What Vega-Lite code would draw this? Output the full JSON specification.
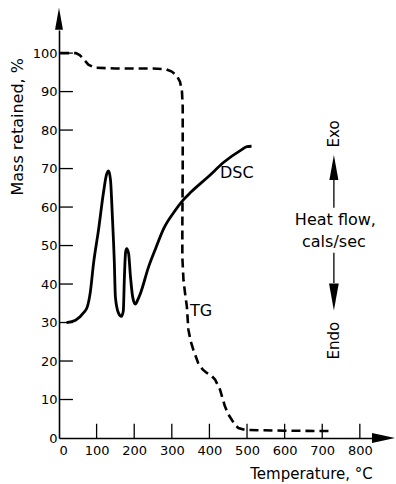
{
  "$schema": "https://vega.github.io/schema/vega-lite/v6.json",
  "width": 314,
  "height": 408,
  "autosize": {"type": "none"},
  "padding": {"left": 59, "top": 30, "right": 23, "bottom": 46},
  "background": "white",
  "config": {
    "view": {"stroke": null},
    "font": "DejaVu Sans",
    "axis": {
      "domainColor": "black",
      "domainWidth": 1.6,
      "ticks": false,
      "labelColor": "black",
      "labelFont": "DejaVu Sans",
      "labelFontSize": 13,
      "titleColor": "black",
      "titleFont": "DejaVu Sans",
      "titleFontSize": 15,
      "titleFontWeight": "normal",
      "grid": false
    }
  },
  "datasets": {
    "dsc": [
      {"T": 20, "m": 30}, {"T": 44, "m": 30.6}, {"T": 65, "m": 32.5}, {"T": 75, "m": 34},
      {"T": 83, "m": 37.7}, {"T": 92, "m": 45.5}, {"T": 105, "m": 54}, {"T": 118, "m": 63.6},
      {"T": 126, "m": 68.3}, {"T": 132, "m": 69.4}, {"T": 137, "m": 67}, {"T": 142, "m": 57.4},
      {"T": 147, "m": 46}, {"T": 150, "m": 36.6}, {"T": 158, "m": 32.5}, {"T": 166, "m": 31.6},
      {"T": 171, "m": 33}, {"T": 174, "m": 42}, {"T": 177, "m": 48.2}, {"T": 180, "m": 49.2},
      {"T": 185, "m": 48}, {"T": 190, "m": 42}, {"T": 196, "m": 36.6}, {"T": 203, "m": 34.8},
      {"T": 210, "m": 36}, {"T": 217, "m": 37.7}, {"T": 238, "m": 44.4}, {"T": 258, "m": 49.5},
      {"T": 279, "m": 54.5}, {"T": 306, "m": 58.7}, {"T": 330, "m": 61.8}, {"T": 351, "m": 63.9},
      {"T": 396, "m": 67.8}, {"T": 439, "m": 71.7}, {"T": 484, "m": 74.8}, {"T": 500, "m": 75.7},
      {"T": 512, "m": 75.8}
    ],
    "tg": [
      {"T": 3, "m": 100}, {"T": 45, "m": 100}, {"T": 55, "m": 99.5}, {"T": 65, "m": 98.5},
      {"T": 78, "m": 97}, {"T": 95, "m": 96.2}, {"T": 150, "m": 96}, {"T": 250, "m": 96},
      {"T": 285, "m": 95.8}, {"T": 300, "m": 95.2}, {"T": 313, "m": 94.2}, {"T": 322, "m": 92.5},
      {"T": 327, "m": 90}, {"T": 329, "m": 86}, {"T": 329, "m": 70}, {"T": 328, "m": 55},
      {"T": 328, "m": 47}, {"T": 331, "m": 41}, {"T": 336, "m": 37}, {"T": 340, "m": 34.2},
      {"T": 344, "m": 28.2}, {"T": 350, "m": 25.2}, {"T": 357, "m": 23}, {"T": 370, "m": 19.5},
      {"T": 382, "m": 17.8}, {"T": 393, "m": 16.9}, {"T": 405, "m": 16.2}, {"T": 415, "m": 15.2},
      {"T": 428, "m": 12.6}, {"T": 441, "m": 8.3}, {"T": 450, "m": 6.2}, {"T": 459, "m": 4.8},
      {"T": 468, "m": 3.4}, {"T": 477, "m": 2.6}, {"T": 495, "m": 2.1}, {"T": 600, "m": 1.9},
      {"T": 725, "m": 1.8}
    ],
    "labels": [
      {"T": 473, "m": 68.9, "text": "DSC"},
      {"T": 378, "m": 32.9, "text": "TG"},
      {"T": 735, "m": 56.7, "text": "Heat flow,"},
      {"T": 731, "m": 51.0, "text": "cals/sec"}
    ],
    "vlabels": [
      {"T": 731, "m": 79.0, "text": "Exo"},
      {"T": 731, "m": 25.3, "text": "Endo"}
    ],
    "yticks": [
      {"m": 10, "T": 0, "T2": 37}, {"m": 20, "T": 0, "T2": 37}, {"m": 30, "T": 0, "T2": 37},
      {"m": 40, "T": 0, "T2": 37}, {"m": 50, "T": 0, "T2": 37}, {"m": 60, "T": 0, "T2": 37},
      {"m": 70, "T": 0, "T2": 37}, {"m": 80, "T": 0, "T2": 37}, {"m": 90, "T": 0, "T2": 37},
      {"m": 100, "T": 0, "T2": 37}
    ],
    "xticks": [
      {"T": 100}, {"T": 200}, {"T": 300}, {"T": 400},
      {"T": 500}, {"T": 600}, {"T": 700}, {"T": 800}
    ],
    "axisUp": [{"T": 0, "m": 108.9}],
    "axisRight": [{"T": 863, "m": 0}],
    "flowUp": [{"T": 731, "m": 70.3}],
    "flowDown": [{"T": 731, "m": 36.6}],
    "stems": [
      {"T": 731, "m": 67.1, "m2": 59.8},
      {"T": 731, "m": 48.1, "m2": 40.3}
    ]
  },
  "layer": [
    {
      "encoding": {
        "x": {
          "field": "T",
          "type": "quantitative",
          "scale": {"domain": [0, 835], "nice": false, "zero": false},
          "axis": {
            "values": [0, 100, 200, 300, 400, 500, 600, 700, 800],
            "labelPadding": 6,
            "title": "Temperature, °C",
            "titleX": 252,
            "titleY": 40,
            "titleAlign": "center",
            "titleBaseline": "alphabetic"
          }
        },
        "y": {
          "field": "m",
          "type": "quantitative",
          "scale": {"domain": [0, 106], "nice": false, "zero": false},
          "axis": {
            "values": [0, 10, 20, 30, 40, 50, 60, 70, 80, 90, 100],
            "labelPadding": 2,
            "title": "Mass retained, %",
            "titleAngle": 270,
            "titleFontSize": 16,
            "titleX": -37,
            "titleY": 165,
            "titleAlign": "left",
            "titleBaseline": "alphabetic"
          }
        }
      },
      "layer": [
        {
          "data": {"name": "yticks"},
          "mark": {"type": "rule", "color": "black", "strokeWidth": 1.3},
          "encoding": {"x2": {"field": "T2"}}
        },
        {
          "data": {"name": "dsc"},
          "mark": {"type": "line", "color": "black", "strokeWidth": 2.8, "interpolate": "monotone"}
        },
        {
          "data": {"name": "tg"},
          "mark": {"type": "line", "color": "black", "strokeWidth": 2.6, "strokeDash": [9, 5]},
          "encoding": {"order": {"value": null}}
        },
        {
          "data": {"name": "stems"},
          "mark": {"type": "rule", "color": "black", "strokeWidth": 1.3},
          "encoding": {"y2": {"field": "m2"}}
        },
        {
          "data": {"name": "axisUp"},
          "mark": {"type": "point", "filled": true, "color": "black", "opacity": 1, "shape": "M0,-1L0.36,1L-0.36,1Z", "size": 484}
        },
        {
          "data": {"name": "flowUp"},
          "mark": {"type": "point", "filled": true, "color": "black", "opacity": 1, "shape": "M0,-1L0.36,1L-0.36,1Z", "size": 625}
        },
        {
          "data": {"name": "flowDown"},
          "mark": {"type": "point", "filled": true, "color": "black", "opacity": 1, "shape": "M0,1L0.36,-1L-0.36,-1Z", "size": 729}
        },
        {
          "data": {"name": "axisRight"},
          "mark": {"type": "point", "filled": true, "color": "black", "opacity": 1, "shape": "M1,0L-1,0.43L-1,-0.43Z", "size": 529}
        },
        {
          "data": {"name": "labels"},
          "mark": {"type": "text", "color": "black", "font": "DejaVu Sans", "fontSize": 16, "align": "center", "baseline": "middle"},
          "encoding": {"text": {"field": "text"}}
        },
        {
          "data": {"name": "vlabels"},
          "mark": {"type": "text", "color": "black", "font": "DejaVu Sans", "fontSize": 15, "angle": 270, "align": "center", "baseline": "middle"},
          "encoding": {"text": {"field": "text"}}
        }
      ]
    },
    {
      "data": {"name": "xticks"},
      "mark": {"type": "rule", "color": "black", "strokeWidth": 1.3},
      "encoding": {
        "x": {
          "field": "T",
          "type": "quantitative",
          "scale": {"domain": [0, 835], "nice": false, "zero": false},
          "axis": {
            "values": [0, 100, 200, 300, 400, 500, 600, 700, 800],
            "labelPadding": 6,
            "title": "Temperature, °C",
            "titleX": 252,
            "titleY": 40,
            "titleAlign": "center",
            "titleBaseline": "alphabetic"
          }
        },
        "y": {
          "datum": 0,
          "type": "quantitative",
          "scale": {"domain": [0, 106], "nice": false, "zero": false},
          "axis": {
            "values": [0, 10, 20, 30, 40, 50, 60, 70, 80, 90, 100],
            "labelPadding": 2,
            "title": "Mass retained, %",
            "titleAngle": 270,
            "titleFontSize": 16,
            "titleX": -37,
            "titleY": 165,
            "titleAlign": "left",
            "titleBaseline": "alphabetic"
          }
        },
        "y2": {"datum": 3.7}
      }
    }
  ]
}
